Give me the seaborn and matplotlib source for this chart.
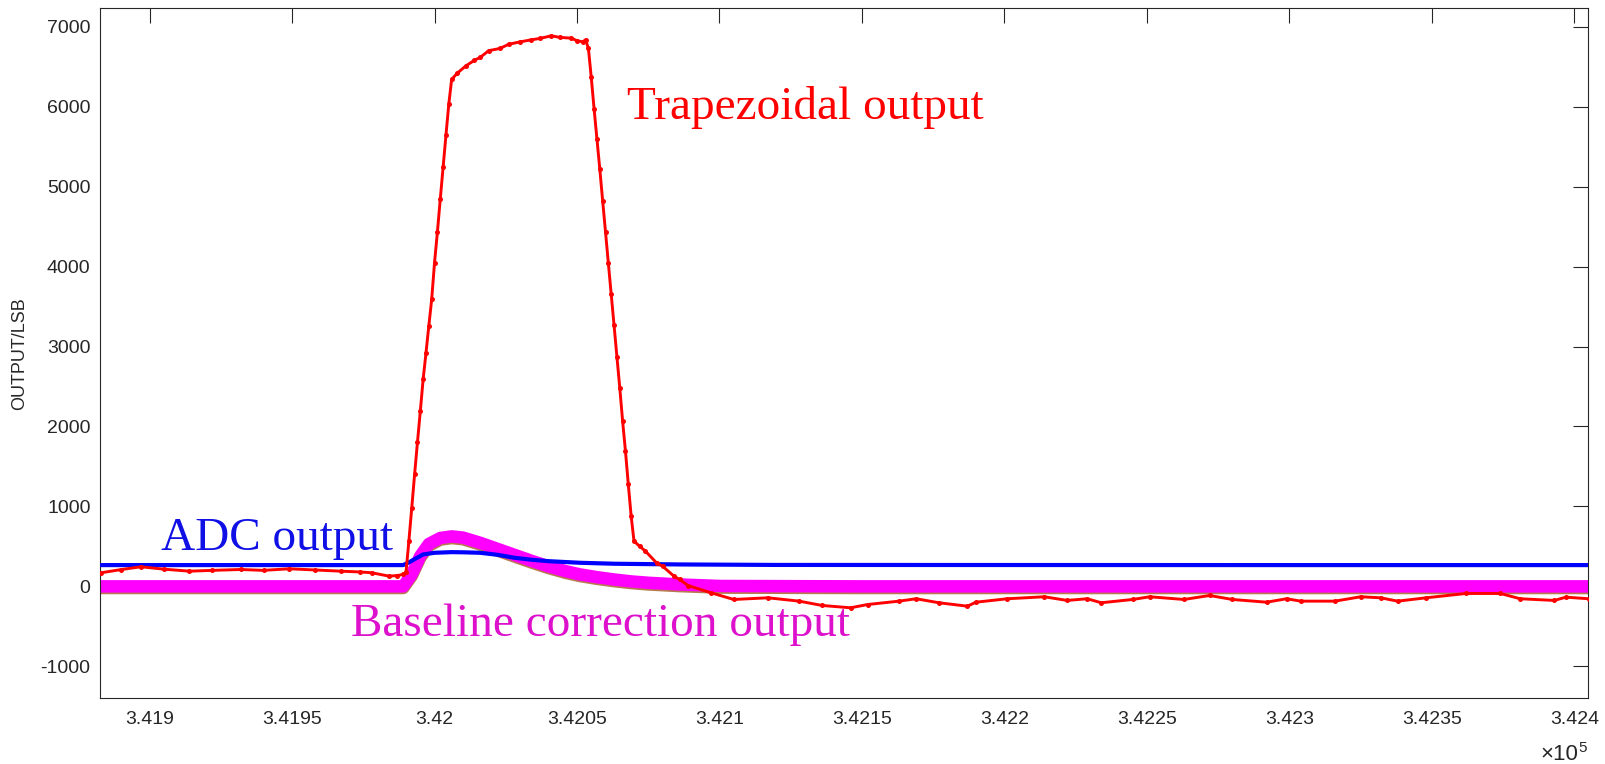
import matplotlib
matplotlib.use("Agg")
import matplotlib.pyplot as plt
import matplotlib.patheffects as pe
import seaborn as sns
import pandas as pd

# ---------------- data ----------------
red_x = [341883, 341890, 341897, 341905, 341914, 341922, 341932, 341940, 341949,
         341958, 341967, 341974, 341978, 341984, 341987, 341989,
         341990, 341991, 341992, 341993, 341994, 341995, 341996, 341997, 341998,
         341999, 342000, 342001, 342002, 342003, 342004, 342005, 342006,
         342008, 342011, 342014, 342016, 342019, 342023, 342026, 342030, 342034,
         342037, 342041, 342044, 342048, 342050, 342052, 342053, 342054,
         342055, 342056, 342057, 342058, 342059, 342060, 342061, 342062, 342063,
         342064, 342065, 342066, 342067, 342068, 342069, 342070,
         342072, 342074, 342078, 342080, 342084, 342086, 342089, 342097, 342105,
         342117, 342128, 342136, 342146, 342152, 342163, 342169, 342177, 342187,
         342190, 342201, 342214, 342222, 342229, 342234, 342245, 342251, 342263,
         342272, 342280, 342292, 342299, 342304, 342316, 342325, 342332, 342338,
         342348, 342362, 342374, 342381, 342393, 342397, 342405]
red_y = [170, 210, 245, 215, 190, 200, 211, 200, 220,
         205, 190, 180, 170, 128, 135, 150,
         180, 570, 980, 1400, 1800, 2190, 2590, 2920, 3260,
         3590, 4050, 4430, 4840, 5240, 5640, 6030, 6340,
         6420, 6510, 6580, 6615, 6700, 6728, 6780, 6810, 6836,
         6853, 6886, 6866, 6857, 6824, 6811, 6836, 6728,
         6366, 5969, 5593, 5218, 4821, 4433, 4041, 3653, 3265,
         2873, 2486, 2068, 1692, 1275, 879, 566,
         500, 441, 290, 253, 128, 86, 10, -80, -164,
         -143, -185, -239, -268, -227, -185, -155, -205, -248,
         -198, -155, -130, -176, -155, -205, -164, -130, -164,
         -114, -164, -198, -155, -185, -185, -130, -143, -185,
         -143, -89, -89, -155, -176, -135, -155]

adc_x = [341883, 341950, 341989, 341991, 341993, 341996, 342000, 342006, 342010,
         342016, 342022, 342028, 342034, 342040, 342051, 342063, 342086, 342120,
         342200, 342300, 342405]
adc_y = [266, 266, 266, 300, 340, 399, 420, 428, 426,
         420, 395, 358, 333, 315, 295, 283, 274, 268,
         267, 266, 266]

corr_x = [341883, 341950, 341989, 341992, 341995, 341998, 342002, 342006, 342010,
          342016, 342022, 342028, 342034, 342040, 342046, 342051, 342057, 342063,
          342069, 342075, 342086, 342100, 342150, 342250, 342405]
corr_y = [0, 0, 0, 150, 380, 530, 605, 625, 610,
          545, 470, 395, 320, 250, 190, 150, 115, 86,
          62, 45, 24, 5, 0, 0, 0]

xtick_vals = [341900, 341950, 342000, 342050, 342100, 342150, 342200,
              342250, 342300, 342350, 342400]
xtick_labels = ["3.419", "3.4195", "3.42", "3.4205", "3.421", "3.4215", "3.422",
                "3.4225", "3.423", "3.4235", "3.424"]
ytick_vals = [-1000, 0, 1000, 2000, 3000, 4000, 5000, 6000, 7000]

# ---------------- style ----------------
sns.set_style("white")
plt.rcParams["font.family"] = ["Liberation Sans", "DejaVu Sans"]
axc = "#262626"

fig = plt.figure(figsize=(16.06, 7.64), dpi=100)
ax = fig.add_axes([0.06245, 0.0860, 0.92653, 0.90314])

df_red = pd.DataFrame({"x": red_x, "y": red_y})
df_adc = pd.DataFrame({"x": adc_x, "y": adc_y})
df_cor = pd.DataFrame({"x": corr_x, "y": corr_y})

# baseline correction band (thick, with brownish lower edge)
sns.lineplot(data=df_cor, x="x", y="y", ax=ax, color="#FF00FF", linewidth=9.0,
             estimator=None, sort=False, zorder=2,
             path_effects=[pe.SimpleLineShadow(offset=(0, -1.2), shadow_color="#B06A3A", alpha=0.9),
                           pe.Normal()])
# ADC output
sns.lineplot(data=df_adc, x="x", y="y", ax=ax, color="#0000FF", linewidth=3.0,
             estimator=None, sort=False, zorder=3)
# Trapezoidal output
sns.lineplot(data=df_red, x="x", y="y", ax=ax, color="#FF0000", linewidth=2.1,
             marker="o", markersize=3.6, markeredgewidth=0, estimator=None, sort=False,
             zorder=4)

ax.set_xlim(341882.7, 342404.9)
ax.set_ylim(-1400, 7230)
ax.set_xticks(xtick_vals)
ax.set_xticklabels(xtick_labels)
ax.set_yticks(ytick_vals)
ax.set_yticklabels([str(v) for v in ytick_vals])
ax.tick_params(axis="both", direction="in", length=10.5, width=0.8, color=axc,
               labelcolor=axc, labelsize=14, top=True, right=True)
ax.tick_params(axis="x", pad=9)
ax.tick_params(axis="y", pad=7)
for s in ax.spines.values():
    s.set_color(axc)
    s.set_linewidth(0.8)
ax.set_xlabel("")
ax.set_ylabel("OUTPUT/LSB", fontsize=13, color=axc)
ax.yaxis.set_label_coords(-0.0485, 0.5)

ax.text(0.99345, -0.0894, "\u00d710", transform=ax.transAxes, ha="right",
        va="baseline", fontsize=16, color=axc)
ax.text(0.99345, -0.0780, "5", transform=ax.transAxes, ha="left",
        va="baseline", fontsize=11, color=axc)

serif = ["Liberation Serif", "DejaVu Serif"]
ax.text(342067.5, 5843, "Trapezoidal output", color="#FF0000", fontsize=34,
        family=serif, va="baseline", ha="left")
ax.text(341904, 449, "ADC output", color="#1010E6", fontsize=34,
        family=serif, va="baseline", ha="left")
ax.text(341970.7, -627, "Baseline correction output", color="#DD10CC", fontsize=34,
        family=serif, va="baseline", ha="left")

fig.savefig("out.png", dpi=100)
